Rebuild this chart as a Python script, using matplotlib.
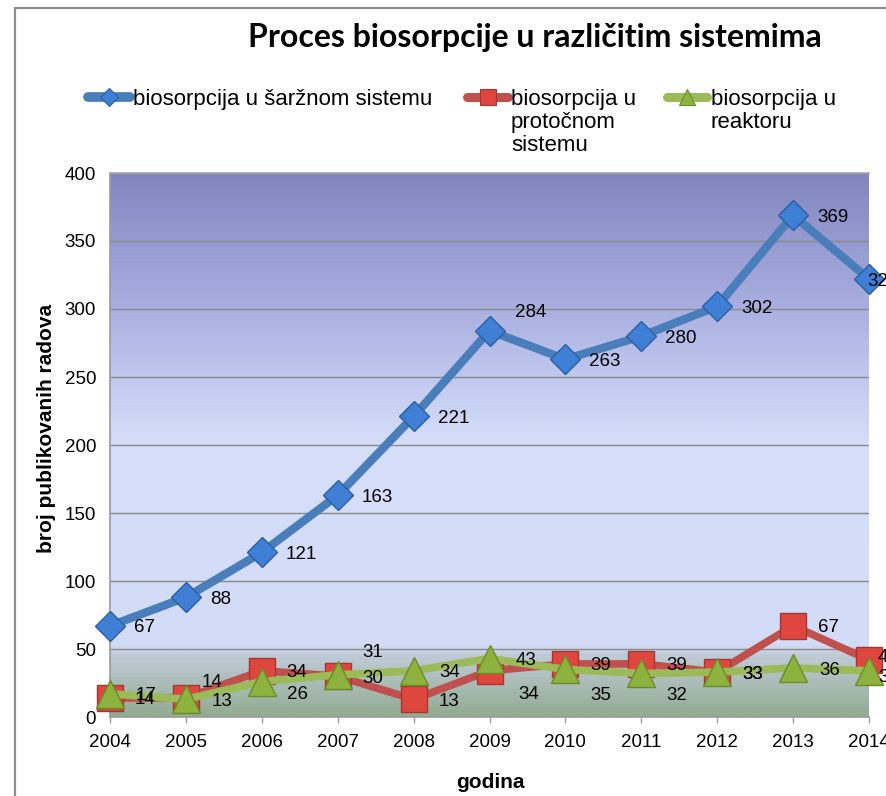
import numpy as np
import matplotlib
matplotlib.use("Agg")
import matplotlib.pyplot as plt
from matplotlib.colors import LinearSegmentedColormap
from matplotlib.lines import Line2D
from matplotlib.patches import Rectangle

plt.rcParams['font.family'] = ['Liberation Sans', 'DejaVu Sans']

# ---------------- data ----------------
years = [2004, 2005, 2006, 2007, 2008, 2009, 2010, 2011, 2012, 2013, 2014]
batch = [67, 88, 121, 163, 221, 284, 263, 280, 302, 369, 322]      # šaržni sistem
flow = [14, 14, 34, 30, 13, 34, 39, 39, 33, 67, 42]                 # protočni sistem
reactor = [17, 13, 26, 31, 34, 43, 35, 32, 33, 36, 34]              # reaktor

series_names = ["biosorpcija u šaržnom sistemu",
                "biosorpcija u\nprotočnom\nsistemu",
                "biosorpcija u\nreaktoru"]
title = "Proces biosorpcije u različitim sistemima"
xlabel = "godina"
ylabel = "broj publikovanih radova"
yticks = [0, 50, 100, 150, 200, 250, 300, 350, 400]

# ---------------- figure ----------------
W, H, DPI = 886, 796, 100
fig = plt.figure(figsize=(W / DPI, H / DPI), dpi=DPI)
fig.patch.set_facecolor('white')

def fx(px):
    return px / W

def fy(py):
    return 1 - py / H

# outer chart frame (cut by the image on the right and bottom)
fig.add_artist(Rectangle((fx(15), fy(900)), 2.0, fy(8) - fy(900),
                         transform=fig.transFigure, fill=False,
                         edgecolor='#8c8c8c', linewidth=1.6))

L, R, T, B = 110, 869, 173, 717
ax = fig.add_axes([fx(L), fy(B), fx(R) - fx(L), fy(T) - fy(B)])

# gradient plot-area background
stops = [(0.0, '#93ab91'), (45 / 400, '#c0cbd8'), (52 / 400, '#d3dcf6'),
         (200 / 400, '#d6defa'), (240 / 400, '#c5cdf1'),
         (310 / 400, '#a5abdd'), (1.0, '#8286c0')]
cmap = LinearSegmentedColormap.from_list('bg', stops)
grad = np.linspace(0, 1, 400).reshape(-1, 1)
ax.imshow(grad, cmap=cmap, extent=(years[0], years[-1], 0, 400),
          origin='lower', aspect='auto', zorder=0, interpolation='bilinear')

ax.set_xlim(years[0], years[-1])
ax.set_ylim(0, 400)
ax.set_yticks(yticks)
ax.set_xticks(years)
ax.set_axisbelow(True)
ax.yaxis.grid(True, color='#8a8a8a', linewidth=1.0)
ax.xaxis.grid(False)

ax.spines['right'].set_visible(False)
ax.spines['top'].set_color('#a8a8a8')
ax.spines['left'].set_color('#9a9a9a')
ax.spines['bottom'].set_color('#9a9a9a')
for s in ['top', 'left', 'bottom']:
    ax.spines[s].set_linewidth(1.2)

ax.tick_params(axis='y', length=0, pad=10, labelsize=13.5, labelcolor='black')
ax.tick_params(axis='x', length=4, width=1, color='#9a9a9a', direction='out',
               pad=8, labelsize=13.5, labelcolor='black')

# series
styles = [
    dict(color='#4a7ebb', lw=6.0, marker='D', ms=15, mfc='#3f80d6', mec='#2b5f9f', mew=1.0),
    dict(color='#c0504d', lw=5.5, marker='s', ms=18.5, mfc='#df463d', mec='#a53733', mew=1.0),
    dict(color='#9bbb59', lw=5.5, marker='^', ms=19.5, mfc='#8db33e', mec='#6b8a2a', mew=1.0),
]
data = [batch, flow, reactor]
for i, (vals, st) in enumerate(zip(data, styles)):
    ax.plot(years, vals, color=st['color'], lw=st['lw'], marker=st['marker'],
            ms=st['ms'], mfc=st['mfc'], mec=st['mec'], mew=st['mew'],
            solid_joinstyle='round', solid_capstyle='round',
            clip_on=False, zorder=3 + i)

# data labels (offsets in pixels: dx to label's left edge, dy downwards)
default_off = [(24, 0), (25, 0), (26, 0)]
special_off = [
    {2009: (26, -20), 2014: (-2, 0)},
    {2005: (16, -17), 2009: (29, 22), 2014: (9, -4)},
    {2006: (25, 11), 2007: (25, -24), 2010: (25, 24), 2011: (25, 20),
     2012: (25, 0), 2014: (9, 5)},
]
pt = 72 / DPI
for i, vals in enumerate(data):
    for yr, v in zip(years, vals):
        dx, dy = special_off[i].get(yr, default_off[i])
        ax.annotate(str(v), (yr, v), xytext=(dx * pt, -dy * pt),
                    textcoords='offset points', ha='left', va='center_baseline',
                    fontsize=13.5, color='black', zorder=10,
                    annotation_clip=False)

# axis titles
fig.text(fx(47), fy(428), ylabel, rotation=90, ha='center', va='center',
         fontsize=15, fontweight='bold')
fig.text(fx(490), fy(782), xlabel, ha='center', va='center',
         fontsize=15, fontweight='bold')

# chart title
fig.text(fx(535), fy(37), title, ha='center', va='center',
         fontsize=23, fontweight='bold', family=['Lato', 'DejaVu Sans'])

# legend (drawn manually so the handle sits on the first text line)
leg_y = 97
leg_items = [(88, 130, 133), (467, 508, 511), (667, 707, 711)]
leg_ms = [9, 11, 11]
for (x0, x1, xt), st, name, ms in zip(leg_items, styles, series_names, leg_ms):
    fig.add_artist(Line2D([fx(x0), fx(x1)], [fy(leg_y), fy(leg_y)],
                          transform=fig.transFigure, color=st['color'],
                          lw=st['lw'] + 1, solid_capstyle='round'))
    fig.add_artist(Line2D([fx((x0 + x1) / 2)], [fy(leg_y)],
                          transform=fig.transFigure, linestyle='none',
                          marker=st['marker'], ms=ms, mfc=st['mfc'],
                          mec=st['mec'], mew=0.8))
    fig.text(fx(xt), fy(leg_y - 8), name, ha='left', va='top',
             fontsize=16, linespacing=1.12)

fig.savefig('out.png', dpi=DPI)
